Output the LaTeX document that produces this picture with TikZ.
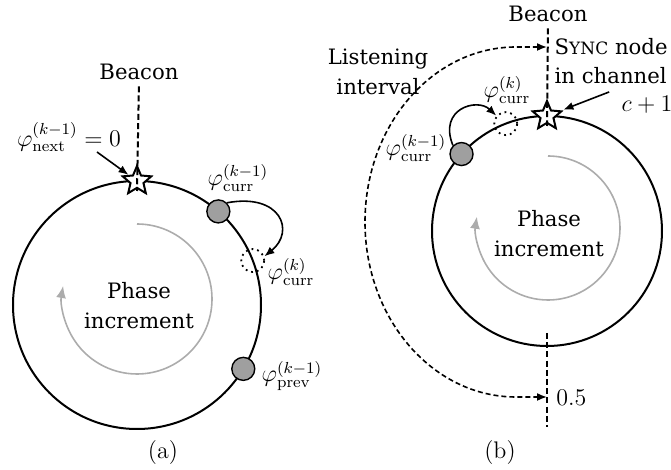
\RequirePackage{fix-cm}
\documentclass[tikz,border=0pt]{standalone}
\usepackage{fontspec}
\newfontfamily\labfont{DejaVu Serif}
\usetikzlibrary{arrows.meta,shapes.geometric,calc}
\begin{document}
\begin{tikzpicture}[x=0.5pt,y=-0.5pt,
  every node/.style={font=\fontsize{12}{14.5}\selectfont, inner sep=0pt},
  ring/.style={line width=1pt},
  beaconline/.style={dash pattern=on 3pt off 1.6pt, line width=1pt},
  listen/.style={dash pattern=on 2.5pt off 1.5pt, line width=0.8pt, {Latex[length=5pt,width=4pt]}-{Latex[length=5pt,width=4pt]}},
  phasenode/.style={circle, draw, line width=0.7pt, fill=gray!75, minimum size=11.5pt},
  ghost/.style={circle, draw, dotted, line width=0.9pt, minimum size=11.5pt},
  starnode/.style={star, star points=5, star point ratio=2.2, draw, line width=1pt, fill=white, minimum size=15pt},
  arr/.style={line width=0.8pt, -{Latex[length=5pt,width=4pt]}},
  incr/.style={line width=0.8pt, gray!65, -{Latex[length=6pt,width=5pt]}},
  txt/.style={font=\labfont\fontsize{10.6}{15}\selectfont, align=center},
]
\useasboundingbox (0,0) rectangle (671,470);

% ---------- panel (a) ----------
\coordinate (ca) at (137,305);
\draw[ring] (ca) circle[radius=62pt];
\node[starnode] (sa) at ($(ca)+(90:62pt)$) {};
\node[txt] (ba) at (139,72) {Beacon};
\draw[beaconline, shorten <=3pt] (ba.south) -- ($(sa)+(0,10)$);
\coordinate (ia) at (137,299);
\draw[incr] ($(ia)+(90:37.5pt)$) arc[start angle=90, end angle=-190, radius=37.5pt];
\node[txt] (pa) at (139,306) {Phase\\increment};
\node[phasenode] (g1) at ($(ca)+(49:62pt)$) {};
\node[ghost] (d1) at ($(ca)+(21:62pt)$) {};
\node[phasenode] (g2) at ($(ca)+(-31:62pt)$) {};
\node (l1) at (238,178) {$\varphi^{(k-1)}_{\mathrm{curr}}$};
\node (l2) at (291,272) {$\varphi^{(k)}_{\mathrm{curr}}$};
\node (l3) at (292,376) {$\varphi^{(k-1)}_{\mathrm{prev}}$};
\node (ln) at (69,137) {$\varphi^{(k-1)}_{\mathrm{next}}=0$};
\draw[arr] ([xshift=14pt]ln.south) -- (sa);
\draw[arr] (g1.north east) .. controls +(54,-10) and +(31,-25) .. (d1.20);
\node (capa) at (163,453) {(a)};

% ---------- panel (b) ----------
\coordinate (cb) at (547,231);
\draw[ring] (cb) circle[radius=57.5pt];
\node[starnode] (sb) at ($(cb)+(90:57.5pt)$) {};
\node[txt] (bb) at (548,14) {Beacon};
\draw[beaconline, shorten <=3pt] (bb.south) -- ($(sb)+(0,10)$);
\coordinate (hb1) at (547,333);
\coordinate (hb2) at (547,427);
\draw[beaconline] (hb1) -- (hb2);
\coordinate (lt) at (547,47);
\coordinate (lb) at (547,397);
\draw[listen] (lt) -- ++(-31,0) arc[start angle=90, end angle=270, x radius=75.5pt, y radius=87.5pt] -- (lb);
\coordinate (ib) at (548,228);
\draw[incr] ($(ib)+(90:36pt)$) arc[start angle=90, end angle=-189, radius=36pt];
\node[txt] (pb) at (549,234) {Phase\\increment};
\node[ghost] (d2) at ($(cb)+(111:57.5pt)$) {};
\node[phasenode] (g3) at ($(cb)+(138:57.5pt)$) {};
\node (l4) at (507,90) {$\varphi^{(k)}_{\mathrm{curr}}$};
\node (l5) at (416,148) {$\varphi^{(k-1)}_{\mathrm{curr}}$};
\draw[arr] (g3.north west) .. controls +(-15,-37) and +(-19,-18) .. (d2.140);
\node[txt, font=\labfont\fontsize{10.6}{14.25}\selectfont, align=left, anchor=north east] (sy) at (668,38) {S{\fontsize{8.5}{11}\selectfont YNC} node\\in channel};
\node (lc) at (647,105) {$c+1$};
\draw[arr, shorten >=1pt] ([xshift=-6pt,yshift=2pt]lc.north west) -- (sb);
\node[txt] (li) at (378,72) {Listening\\interval};
\node[anchor=west] (h5) at (556,398) {$0.5$};
\node (capb) at (500,453) {(b)};
\end{tikzpicture}
\end{document}
